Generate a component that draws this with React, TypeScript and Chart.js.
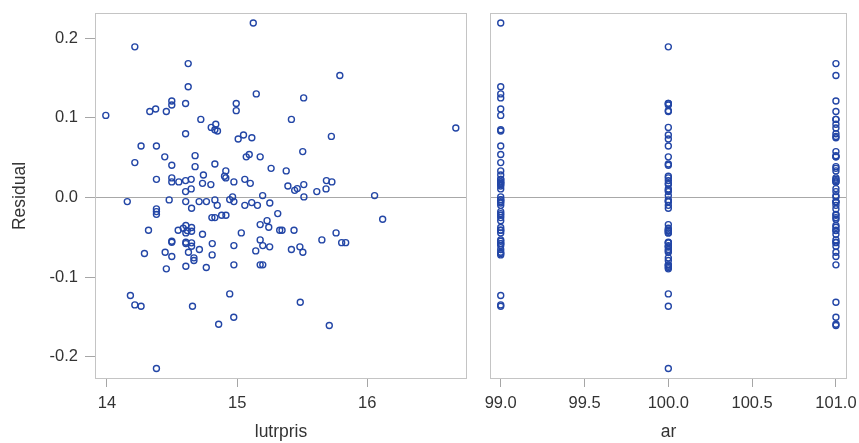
import React, { useEffect, useRef } from 'react';
import { Chart, registerables } from 'chart.js';
Chart.register(...registerables);

// Observations: lutrpris, residual, ar (year)
const lutrpris = [
  15.124, 14.214, 14.624, 14.624, 14.498, 14.498, 14.604, 14.993, 15.147, 14.329,
  14.374, 14.456, 14.993, 13.991, 14.721, 14.801, 14.836, 14.829, 14.849, 14.604,
  15.049, 15.113, 15.008, 14.262, 14.380, 14.677, 14.444, 15.070, 15.093, 15.177,
  14.214, 14.498, 14.677, 14.829, 15.261, 14.741, 14.913, 14.903, 14.913, 14.380,
  14.498, 14.498, 14.552, 14.604, 14.647, 14.734, 14.798, 14.975, 15.059, 15.101,
  14.604, 14.647, 15.196, 14.965, 14.943, 14.975, 15.789, 15.511, 15.417, 15.724,
  16.680, 15.504, 15.377, 15.390, 15.442, 15.462, 15.512, 15.612, 15.686, 15.728,
  15.683, 15.513, 16.056, 14.156, 14.478, 14.605, 14.708, 14.764, 14.829, 14.847,
  14.650, 15.059, 15.112, 15.156, 15.251, 14.380, 14.380, 14.380, 15.312, 14.806,
  14.829, 14.881, 14.914, 14.319, 14.547, 14.586, 14.606, 14.606, 14.617, 14.650,
  14.650, 14.734, 15.032, 15.177, 15.230, 15.243, 15.327, 14.498, 14.498, 14.606,
  14.606, 14.650, 14.650, 14.809, 14.975, 15.177, 15.197, 15.250, 14.288, 14.447,
  14.498, 14.626, 14.710, 14.808, 15.143, 14.668, 14.668, 14.606, 14.456, 14.763,
  14.975, 15.177, 15.197, 14.180, 14.214, 14.262, 14.657, 14.943, 14.974, 14.858,
  14.380, 16.118, 15.345, 15.437, 15.760, 15.651, 15.803, 15.834, 15.417, 15.482,
  15.505, 15.485, 15.708,
];

const residual = [
  0.219, 0.189, 0.168, 0.139, 0.121, 0.116, 0.118, 0.118, 0.130, 0.108,
  0.111, 0.108, 0.109, 0.103, 0.098, 0.088, 0.092, 0.085, 0.0835, 0.080,
  0.0785, 0.075, 0.0735, 0.0647, 0.0647, 0.0525, 0.051, 0.051, 0.054, 0.051,
  0.0438, 0.0404, 0.0387, 0.042, 0.0366, 0.0283, 0.0334, 0.0266, 0.0246, 0.0228,
  0.0246, 0.0196, 0.0196, 0.0212, 0.0228, 0.0178, 0.0162, 0.0196, 0.0228, 0.0178,
  0.0074, 0.0108, 0.0024, 0.0008, -0.0026, -0.0051, 0.153, 0.125, 0.098, 0.0767,
  0.0873, 0.0576, 0.0334, 0.0145, 0.009, 0.0112, 0.0162, 0.0074, 0.0212, 0.0196,
  0.0108, 0.0008, 0.0024, -0.0051, -0.003, -0.0051, -0.0051, -0.0051, -0.003, -0.0098,
  -0.0135, -0.0098, -0.0064, -0.0098, -0.0068, -0.0143, -0.0177, -0.0211, -0.0202, -0.0252,
  -0.0252, -0.0223, -0.0223, -0.0411, -0.0411, -0.0386, -0.0352, -0.0444, -0.0415, -0.0377,
  -0.0424, -0.0461, -0.0444, -0.034, -0.029, -0.0374, -0.0411, -0.0549, -0.0562, -0.0562,
  -0.0578, -0.0569, -0.0612, -0.0578, -0.0603, -0.0532, -0.0603, -0.0619, -0.0703, -0.0687,
  -0.0741, -0.0687, -0.0653, -0.072, -0.067, -0.0757, -0.0791, -0.0863, -0.0895, -0.0879,
  -0.0845, -0.0845, -0.0845, -0.123, -0.1347, -0.1364, -0.1364, -0.1209, -0.1502, -0.159,
  -0.2145, -0.0273, -0.0411, -0.0411, -0.0444, -0.0532, -0.0566, -0.0566, -0.0653, -0.0619,
  -0.0687, -0.1314, -0.1606,
];

const ar = [
  99, 100, 101, 99, 101, 100, 100, 100, 99, 101,
  99, 100, 100, 99, 101, 100, 101, 99, 99, 101,
  100, 101, 100, 99, 100, 101, 100, 101, 99, 101,
  99, 100, 101, 100, 101, 99, 99, 100, 101, 99,
  100, 101, 99, 100, 101, 99, 100, 101, 99, 100,
  101, 99, 100, 101, 99, 100, 101, 99, 101, 101,
  101, 101, 101, 99, 100, 101, 99, 100, 101, 99,
  100, 99, 101, 101, 100, 99, 101, 100, 99, 101,
  100, 99, 101, 100, 99, 101, 99, 101, 99, 101,
  99, 101, 99, 100, 99, 100, 101, 100, 101, 99,
  100, 101, 99, 100, 99, 101, 100, 99, 100, 101,
  99, 100, 101, 99, 100, 101, 99, 100, 99, 100,
  101, 101, 100, 99, 100, 100, 100, 100, 100, 100,
  101, 100, 100, 99, 99, 99, 100, 100, 101, 101,
  100, 101, 99, 101, 100, 99, 100, 101, 99, 100,
  99, 101, 101,
];

const yTicks = [-0.2, -0.1, 0.0, 0.1, 0.2];
const xTicksLeft = [14, 15, 16];
const xTicksRight = [99.0, 99.5, 100.0, 100.5, 101.0];

const MARKER = '#2346a6';
const FRAME = '#c4c4c4';
const TICKC = '#a6a6a6';
const ZEROC = '#a8a8a8';
const TEXT = '#333333';
const FONT = "'Liberation Sans', Arial, sans-serif";

const framePlugin = {
  id: 'frame',
  beforeDatasetsDraw(chart: any) {
    const { ctx, chartArea: a } = chart;
    ctx.save();
    ctx.strokeStyle = FRAME;
    ctx.lineWidth = 1;
    const l = Math.round(a.left) + 0.5;
    const t = Math.round(a.top) + 0.5;
    const r = Math.round(a.right) - 0.5;
    const b = Math.round(a.bottom) - 0.5;
    ctx.strokeRect(l, t, r - l, b - t);
    ctx.restore();
  },
};

const yMin = -0.2277;
const yMax = 0.2315;

function makeDataset(xs: number[]) {
  return {
    data: xs.map((x, i) => ({ x, y: residual[i] })),
    showLine: false,
    pointStyle: 'circle',
    pointRadius: 3,
    pointHoverRadius: 3,
    pointBorderWidth: 1.4,
    pointBorderColor: MARKER,
    pointBackgroundColor: 'rgba(0,0,0,0)',
    borderColor: MARKER,
    backgroundColor: 'rgba(0,0,0,0)',
  };
}

const tickFont = { family: FONT, size: 16.5 };
const titleFont = { family: FONT, size: 17.5 };

const fitX = (s: any) => { s.height = 64; s.paddingLeft = 0; s.paddingRight = 0; };
const fitYLeft = (s: any) => { s.width = 95; s.paddingTop = 0; s.paddingBottom = 0; };
const fitYRight = (s: any) => { s.width = 0; s.paddingTop = 0; s.paddingBottom = 0; };

export default function App() {
  const leftRef = useRef<HTMLCanvasElement>(null);
  const rightRef = useRef<HTMLCanvasElement>(null);

  useEffect(() => {
    const left = new Chart(leftRef.current!, {
      type: 'scatter',
      data: { datasets: [makeDataset(lutrpris) as any] },
      plugins: [framePlugin],
      options: {
        animation: false,
        responsive: false,
        events: [],
        layout: { padding: { left: 0, right: 11, top: 13, bottom: 0 } },
        plugins: { legend: { display: false }, tooltip: { enabled: false } },
        scales: {
          x: {
            type: 'linear',
            min: 13.908,
            max: 16.766,
            afterBuildTicks: (s: any) => { s.ticks = xTicksLeft.map((v) => ({ value: v })); },
            afterFit: fitX,
            ticks: { font: tickFont, color: TEXT, padding: 7, maxRotation: 0, callback: (v: any) => String(v) },
            grid: { drawOnChartArea: false, drawTicks: true, tickLength: 8, tickColor: TICKC, color: TICKC },
            border: { display: false },
            title: { display: true, text: 'lutrpris', font: titleFont, color: TEXT, padding: { top: 0, bottom: 0 } },
          },
          y: {
            type: 'linear',
            min: yMin,
            max: yMax,
            afterBuildTicks: (s: any) => { s.ticks = yTicks.map((v) => ({ value: v })); },
            afterFit: fitYLeft,
            ticks: { font: tickFont, color: TEXT, padding: 7, callback: (v: any) => Number(v).toFixed(1) },
            grid: {
              drawOnChartArea: true,
              drawTicks: true,
              tickLength: 10,
              tickColor: TICKC,
              color: (c: any) => (c.tick && c.tick.value === 0 ? ZEROC : 'rgba(0,0,0,0)'),
            },
            border: { display: false },
            title: { display: true, text: 'Residual', font: titleFont, color: TEXT, padding: { top: 9.5, bottom: 0 } },
          },
        },
      } as any,
    });

    const right = new Chart(rightRef.current!, {
      type: 'scatter',
      data: { datasets: [makeDataset(ar) as any] },
      plugins: [framePlugin],
      options: {
        animation: false,
        responsive: false,
        events: [],
        layout: { padding: { left: 12, right: 12, top: 13, bottom: 0 } },
        plugins: { legend: { display: false }, tooltip: { enabled: false } },
        scales: {
          x: {
            type: 'linear',
            min: 98.936,
            max: 101.066,
            afterBuildTicks: (s: any) => { s.ticks = xTicksRight.map((v) => ({ value: v })); },
            afterFit: fitX,
            ticks: { font: tickFont, color: TEXT, padding: 7, maxRotation: 0, callback: (v: any) => Number(v).toFixed(1) },
            grid: { drawOnChartArea: false, drawTicks: true, tickLength: 8, tickColor: TICKC, color: TICKC },
            border: { display: false },
            title: { display: true, text: 'ar', font: titleFont, color: TEXT, padding: { top: 0, bottom: 0 } },
          },
          y: {
            type: 'linear',
            min: yMin,
            max: yMax,
            afterBuildTicks: (s: any) => { s.ticks = yTicks.map((v) => ({ value: v })); },
            afterFit: fitYRight,
            ticks: { display: false },
            grid: {
              drawOnChartArea: true,
              drawTicks: false,
              color: (c: any) => (c.tick && c.tick.value === 0 ? ZEROC : 'rgba(0,0,0,0)'),
            },
            border: { display: false },
          },
        },
      } as any,
    });

    return () => {
      left.destroy();
      right.destroy();
    };
  }, []);

  return (
    <div style={{ position: 'fixed', left: 0, top: 0, width: 859, height: 443, background: '#fff' }}>
      <canvas ref={leftRef} width={478} height={443} style={{ position: 'absolute', left: 0, top: 0, width: 478, height: 443 }} />
      <canvas ref={rightRef} width={381} height={443} style={{ position: 'absolute', left: 478, top: 0, width: 381, height: 443 }} />
    </div>
  );
}
